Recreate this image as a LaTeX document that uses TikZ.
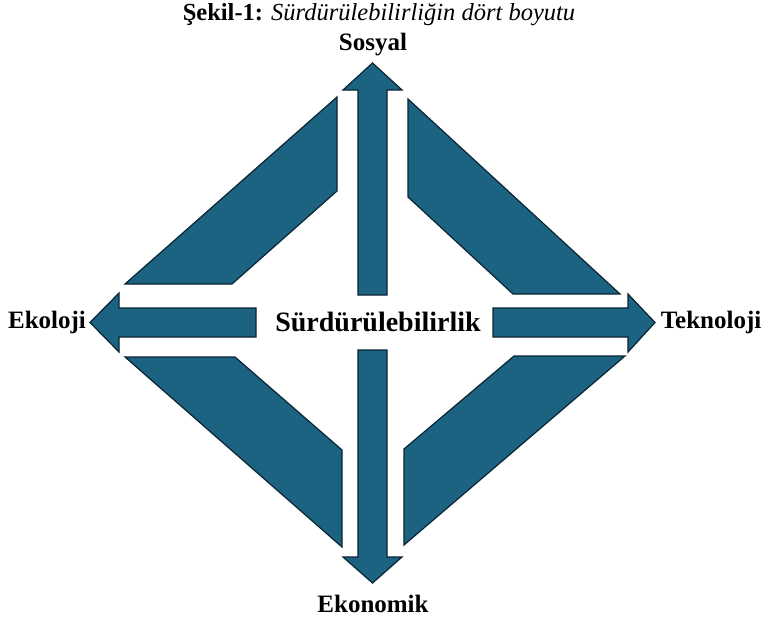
\documentclass[tikz,border=0pt]{standalone}
\usepackage{fontspec}
\setmainfont{Liberation Serif}
\usepackage{xcolor}
\usetikzlibrary{positioning}

\definecolor{petrol}{RGB}{27,99,128}
\definecolor{petrolline}{RGB}{10,36,52}

\begin{document}
\begin{tikzpicture}[
  x=1pt, y=-1pt,
  panel/.style={fill=petrol, draw=petrolline, line width=1.2pt, line join=miter},
  dimarrow/.style={panel},
  dimlabel/.style={font=\fontsize{25}{30}\selectfont\bfseries, inner sep=0pt},
  mainlabel/.style={font=\fontsize{28}{32}\selectfont\bfseries, inner sep=0pt}
]
\useasboundingbox (0,0) rectangle (762,619);

% caption
\node[inner sep=0pt, font=\fontsize{24.5}{28}\selectfont] (baslik) at (379,15)
  {\textbf{Şekil-1:} \textit{Sürdürülebilirliğin dört boyutu}};

% corner panels
\filldraw[panel] (125,284) -- (337,97) -- (337,191) -- (232,284) -- cycle;
\filldraw[panel] (408,99) -- (408,197) -- (513,294) -- (620,294) -- cycle;
\filldraw[panel] (125,357) -- (235,357) -- (342,450) -- (342,547) -- cycle;
\filldraw[panel] (625,356) -- (514,356) -- (404,449) -- (404,545) -- cycle;

% arrows
\filldraw[dimarrow] (358,295) -- (358,90) -- (343,90) -- (372.5,63)
  -- (402,90) -- (387,90) -- (387,295) -- cycle;
\filldraw[dimarrow] (358,350) -- (358,557) -- (343,557) -- (372.5,583)
  -- (402,557) -- (387,557) -- (387,350) -- cycle;
\filldraw[dimarrow] (256,308) -- (119,308) -- (119,293) -- (90,322.5)
  -- (119,352) -- (119,337) -- (256,337) -- cycle;
\filldraw[dimarrow] (493,308) -- (628,308) -- (628,294) -- (655,322.5)
  -- (628,352) -- (628,337) -- (493,337) -- cycle;

% labels
\node[mainlabel] (merkez) at (378,322) {Sürdürülebilirlik};
\node[dimlabel] (sosyal) at (373,45) {Sosyal};
\node[dimlabel] (ekoloji) at (47,322) {Ekoloji};
\node[dimlabel] (teknoloji) at (711,322) {Teknoloji};
\node[dimlabel] (ekonomik) at (373,604) {Ekonomik};
\end{tikzpicture}
\end{document}
